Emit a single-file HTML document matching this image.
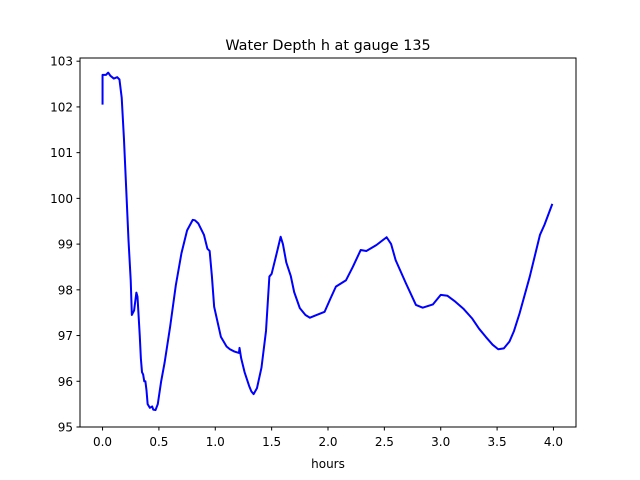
<!DOCTYPE html>
<html><head><meta charset="utf-8"><style>
html,body{margin:0;padding:0;background:#fff}
svg{display:block;font-family:"DejaVu Sans","Liberation Sans",sans-serif}
</style></head><body>
<svg id="chart" width="640" height="480" viewBox="0 0 640 480">
<rect x="0" y="0" width="640" height="480" fill="#fff"/>
<text x="328" y="50" text-anchor="middle" font-size="14.4">Water Depth h at gauge 135</text>
<g id="xticks"></g>
<g id="yticks"></g>
<path id="line" fill="none" stroke="#0000ff" stroke-width="2" stroke-linejoin="round"/>
<rect x="80" y="58" width="496" height="369" fill="none" stroke="#000" stroke-width="1"/>
<text x="328" y="468" text-anchor="middle" font-size="12">hours</text>
</svg>
<script>
const xs=[0,0.0,0.03,0.05,0.07,0.1,0.13,0.15,0.17,0.19,0.21,0.23,0.25,0.26,0.28,0.30,0.31,0.33,0.34,0.35,0.36,0.37,0.38,0.39,0.40,0.42,0.44,0.45,0.47,0.49,0.52,0.55,0.6,0.65,0.7,0.75,0.8,0.82,0.85,0.9,0.93,0.95,0.97,0.99,1.05,1.1,1.13,1.17,1.21,1.215,1.23,1.26,1.3,1.32,1.34,1.37,1.41,1.45,1.48,1.5,1.54,1.58,1.6,1.63,1.67,1.7,1.75,1.8,1.84,1.9,1.97,2.02,2.07,2.16,2.22,2.29,2.34,2.43,2.52,2.56,2.6,2.69,2.78,2.84,2.93,3.0,3.06,3.13,3.2,3.28,3.34,3.4,3.46,3.51,3.56,3.61,3.65,3.7,3.79,3.88,3.92,3.99];
const ys=[102.05,102.7,102.7,102.75,102.68,102.62,102.65,102.6,102.2,101.3,100.2,99.1,98.2,97.45,97.55,97.94,97.85,97.0,96.5,96.2,96.15,96.0,96.0,95.8,95.5,95.42,95.45,95.38,95.37,95.5,96.0,96.4,97.2,98.1,98.8,99.3,99.53,99.52,99.45,99.2,98.9,98.85,98.3,97.63,96.97,96.76,96.7,96.65,96.62,96.73,96.5,96.2,95.9,95.78,95.72,95.85,96.3,97.1,98.29,98.35,98.75,99.16,99.0,98.6,98.3,97.95,97.6,97.45,97.39,97.45,97.52,97.8,98.07,98.21,98.5,98.87,98.85,98.98,99.15,99.0,98.65,98.15,97.67,97.61,97.68,97.89,97.87,97.74,97.59,97.37,97.15,96.97,96.8,96.70,96.72,96.87,97.1,97.49,98.29,99.2,99.42,99.88];
const xTicks=[0,0.5,1,1.5,2,2.5,3,3.5,4];
const xTickLabels=["0.0","0.5","1.0","1.5","2.0","2.5","3.0","3.5","4.0"];
const yTicks=[95,96,97,98,99,100,101,102,103];
const yTickLabels=["95","96","97","98","99","100","101","102","103"];
const X=v=>80+(v+0.2)/4.4*496;
const Y=v=>427-(v-95)/(103.07-95)*369;
const NS="http://www.w3.org/2000/svg";
const xg=document.getElementById('xticks'),yg=document.getElementById('yticks');
xTicks.forEach((t,i)=>{
 const l=document.createElementNS(NS,'line');
 l.setAttribute('x1',X(t));l.setAttribute('x2',X(t));l.setAttribute('y1',427);l.setAttribute('y2',430.5);l.setAttribute('stroke','#000');
 
 
 xg.appendChild(l);
 const s=document.createElementNS(NS,'text');
 s.setAttribute('x',X(t));s.setAttribute('y',446);s.setAttribute('text-anchor','middle');s.setAttribute('font-size','12');
 s.textContent=xTickLabels[i];
 
 
 xg.appendChild(s);
});
yTicks.forEach((t,i)=>{
 const l=document.createElementNS(NS,'line');
 l.setAttribute('x1',76.5);l.setAttribute('x2',80);l.setAttribute('y1',Y(t));l.setAttribute('y2',Y(t));l.setAttribute('stroke','#000');
 
 
 yg.appendChild(l);
 const s=document.createElementNS(NS,'text');
 s.setAttribute('x',73);s.setAttribute('y',Y(t)+4.5);s.setAttribute('text-anchor','end');s.setAttribute('font-size','12');
 s.textContent=yTickLabels[i];
 
 
 yg.appendChild(s);
});
document.getElementById('line').setAttribute('d',xs.map((x,i)=>(i?'L':'M')+X(x).toFixed(2)+' '+Y(ys[i]).toFixed(2)).join(' '));
</script>
</body></html>
